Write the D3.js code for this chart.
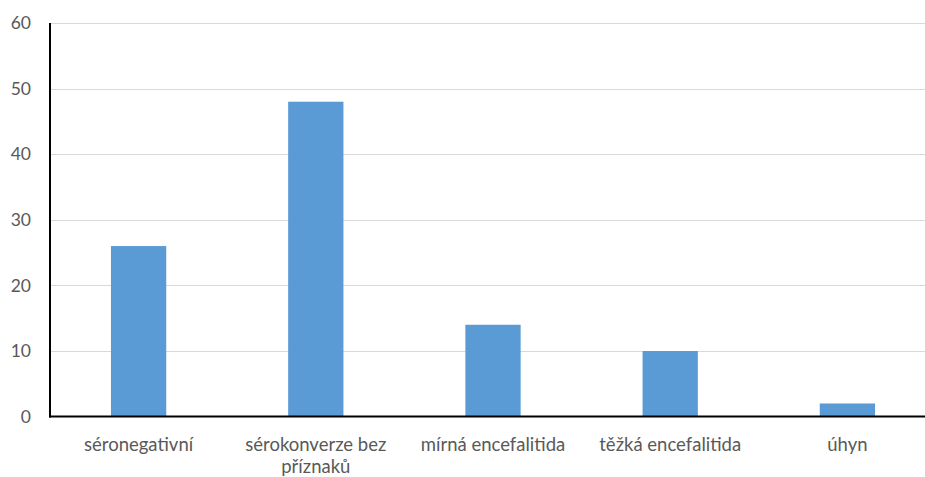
<!DOCTYPE html>
<html>
<head>
<meta charset="utf-8">
<script src="https://cdn.jsdelivr.net/npm/d3@7"></script>
<style>
  html, body { margin: 0; padding: 0; background: #fff; }
  svg { display: block; }
  text { font-family: Lato, "Open Sans", sans-serif; fill: #595959; }
</style>
</head>
<body>
<svg id="chart" width="925" height="477"></svg>
<script>
// Data
const categories = ["séronegativní", "sérokonverze bez příznaků", "mírná encefalitida", "těžká encefalitida", "úhyn"];
const values = [26, 48, 14, 10, 2];
const yTicks = [0, 10, 20, 30, 40, 50, 60];

const W = 925, H = 477;
const margin = { left: 50, right: -11, top: 23, bottom: 60.4 };

const svg = d3.select("#chart");

const x = d3.scaleBand()
  .domain(categories)
  .range([margin.left, W - margin.right])
  .paddingInner(0.688)
  .paddingOuter(0.344);

const y = d3.scaleLinear()
  .domain([0, 60])
  .range([H - margin.bottom, margin.top]);

// Horizontal gridlines
svg.append("g")
  .selectAll("line")
  .data(yTicks.filter(d => d > 0))
  .join("line")
  .attr("x1", margin.left)
  .attr("x2", W)
  .attr("y1", d => Math.round(y(d)) + 0.5)
  .attr("y2", d => Math.round(y(d)) + 0.5)
  .attr("stroke", "#d9d9d9")
  .attr("stroke-width", 1);

// Bars
svg.append("g")
  .selectAll("rect")
  .data(categories)
  .join("rect")
  .attr("x", d => x(d))
  .attr("width", x.bandwidth())
  .attr("y", (d, i) => y(values[i]))
  .attr("height", (d, i) => y(0) - y(values[i]))
  .attr("fill", "#5b9bd5");

// Y axis labels
const yAxis = d3.axisLeft(y).tickValues(yTicks).tickSize(0).tickPadding(19);
const gy = svg.append("g")
  .attr("transform", `translate(${margin.left},0)`)
  .call(yAxis);
gy.select(".domain").remove();
gy.selectAll("text")
  .style("font-family", "Lato, 'Open Sans', sans-serif")
  .style("font-size", "17.5px")
  .attr("fill", "#595959");

// X axis labels
const xAxis = d3.axisBottom(x).tickSize(0).tickPadding(21);
const gx = svg.append("g")
  .attr("transform", `translate(0,${y(0)})`)
  .call(xAxis);
gx.select(".domain").remove();
gx.selectAll("text")
  .style("font-family", "Lato, 'Open Sans', sans-serif")
  .style("font-size", "18.5px")
  .attr("fill", "#595959")
  .call(wrap, x.step() * 0.95);

// Axis lines
svg.append("line")
  .attr("x1", margin.left).attr("x2", margin.left)
  .attr("y1", y(60)).attr("y2", y(0) + 1)
  .attr("stroke", "#000").attr("stroke-width", 2);
svg.append("line")
  .attr("x1", margin.left - 1).attr("x2", W)
  .attr("y1", y(0)).attr("y2", y(0))
  .attr("stroke", "#000").attr("stroke-width", 2);

function wrap(texts, width) {
  texts.each(function() {
    const text = d3.select(this);
    const words = text.text().split(/\s+/);
    const yAttr = text.attr("y");
    const dy = parseFloat(text.attr("dy")) || 0;
    text.text(null);
    let line = [];
    let lineNo = 0;
    let tspan = text.append("tspan").attr("x", 0).attr("y", yAttr).attr("dy", dy + "em");
    for (const w of words) {
      line.push(w);
      tspan.text(line.join(" "));
      if (tspan.node().getComputedTextLength() > width && line.length > 1) {
        line.pop();
        tspan.text(line.join(" "));
        line = [w];
        lineNo++;
        tspan = text.append("tspan").attr("x", 0).attr("y", yAttr)
          .attr("dy", (lineNo * 1.2 + dy) + "em").text(w);
      }
    }
  });
}
</script>
</body>
</html>
